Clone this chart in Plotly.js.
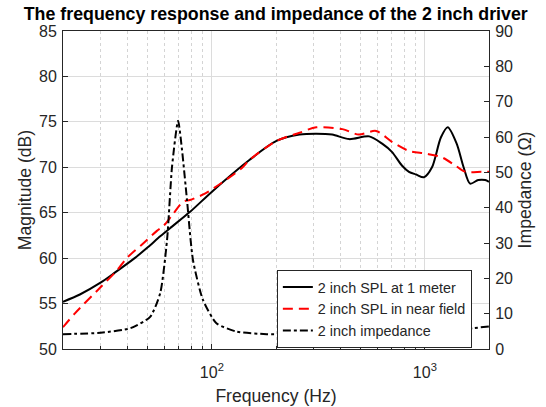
<!DOCTYPE html>
<html>
<head>
<meta charset="utf-8">
<script src="https://cdn.plot.ly/plotly-3.0.1.min.js"></script>
<style>html,body{margin:0;padding:0;background:#fff}#chart{width:546px;height:407px}</style>
</head>
<body>
<div id="chart"></div>
<script>
// Frequency (Hz) and values
const freqSpl1m = [20, 24, 30, 35, 43.4, 50, 57.2, 63.6, 79, 101, 150, 201, 258, 309, 367, 441, 548, 630, 700, 780, 842, 910, 990, 1080, 1190, 1280, 1410, 1520, 1630, 1780, 1920, 2000];
const spl1m     = [55.2, 56.0, 57.3, 58.4, 60.0, 61.2, 62.4, 63.3, 65.1, 67.4, 70.8, 72.9, 73.6, 73.7, 73.6, 73.1, 73.4, 72.6, 71.7, 70.2, 69.5, 69.2, 68.9, 70.0, 73.3, 74.4, 72.6, 70.0, 68.2, 68.6, 68.6, 68.4];

const freqNear = [20, 22.7, 30, 36, 39.8, 47, 55.2, 59, 65, 73.2, 78.9, 92.7, 111.3, 138, 150, 201, 258, 309, 410, 490, 590, 700, 842, 1010, 1200, 1390, 1550, 1840, 2000];
const splNear  = [52.4, 53.9, 56.8, 58.7, 60.0, 61.5, 63.0, 63.5, 64.7, 66.2, 66.4, 67.1, 68.3, 69.9, 70.8, 72.9, 73.8, 74.4, 74.2, 73.6, 74.0, 72.8, 71.8, 71.5, 71.1, 70.2, 69.5, 69.5, 69.5];

const freqImp = [20, 30, 41.5, 51.3, 57.2, 61.6, 65.0, 69.4, 72.4, 76.4, 81.5, 90.8, 105, 131, 181, 300, 600, 1000, 1400, 1690, 2000];
const impedance = [4.2, 4.6, 5.9, 9.1, 15.8, 30.9, 51.6, 64.6, 56.4, 42.2, 25.2, 13.9, 7.3, 4.9, 4.2, 4.1, 4.2, 4.6, 5.3, 5.9, 6.4];

const majorTicks = [100, 1000];
const majorTickText = ['10<sup>2</sup>', '10<sup>3</sup>'];
const minorTicks = [20, 30, 40, 50, 60, 70, 80, 90, 200, 300, 400, 500, 600, 700, 800, 900, 2000];
const leftTicks = [50, 55, 60, 65, 70, 75, 80, 85];
const rightTicks = [0, 10, 20, 30, 40, 50, 60, 70, 80, 90];

const ink = '#262626';
const font = 'Liberation Sans, Arial, sans-serif';

const traces = [
  {x: freqSpl1m, y: spl1m, name: '2 inch SPL at 1 meter', mode: 'lines',
   line: {color: '#000', width: 2, shape: 'spline', smoothing: 0.8}, yaxis: 'y'},
  {x: freqNear, y: splNear, name: '2 inch SPL in near field', mode: 'lines',
   line: {color: '#ff0000', width: 2, dash: '10px,6px', shape: 'spline', smoothing: 0.8}, yaxis: 'y'},
  {x: freqImp, y: impedance, name: '2 inch impedance', mode: 'lines',
   line: {color: '#000', width: 2, dash: '8px,3px,3px,3px', shape: 'spline', smoothing: 0.6}, yaxis: 'y2'}
];

const layout = {
  width: 546, height: 407,
  margin: {l: 63, r: 57, t: 31, b: 58},
  paper_bgcolor: '#fff', plot_bgcolor: '#fff',
  font: {family: font, size: 16, color: ink},
  title: {text: '<b>The frequency response and impedance of the 2 inch driver</b>',
          font: {family: font, size: 17.8, color: '#000'}, x: 0.505, xanchor: 'center', y: 0.966, yanchor: 'middle'},
  showlegend: true,
  legend: {x: 0.502, y: 0.248, xanchor: 'left', yanchor: 'top', bgcolor: '#fff',
           bordercolor: ink, borderwidth: 1, font: {family: font, size: 14.4, color: ink}},
  xaxis: {type: 'log', range: [Math.log10(20), Math.log10(2000)],
          tickmode: 'array', tickvals: majorTicks, ticktext: majorTickText,
          ticks: 'inside', ticklen: 5, tickcolor: ink, ticklabelstandoff: 9,
          showline: true, linecolor: ink, linewidth: 1, mirror: true,
          showgrid: true, gridcolor: '#dcdcdc', gridwidth: 1,
          minor: {tickmode: 'array', tickvals: minorTicks, ticks: 'inside', ticklen: 3, tickcolor: ink,
                  showgrid: true, gridcolor: '#d4d4d4', griddash: 'dot', gridwidth: 1},
          zeroline: false, tickfont: {size: 16, color: ink},
          title: {text: 'Frequency (Hz)', font: {size: 17.6, color: ink}, standoff: 9}},
  yaxis: {range: [50, 85], tickmode: 'array', tickvals: leftTicks,
          ticks: 'inside', ticklen: 5, tickcolor: ink, ticklabelstandoff: 2,
          showline: true, linecolor: ink, linewidth: 1,
          showgrid: true, gridcolor: '#dcdcdc', gridwidth: 1, zeroline: false,
          tickfont: {size: 16, color: ink},
          title: {text: 'Magnitude (dB)', font: {size: 17.6, color: ink}, standoff: 2}},
  yaxis2: {range: [0, 90], overlaying: 'y', side: 'right', tickmode: 'array', tickvals: rightTicks,
           ticks: 'inside', ticklen: 5, tickcolor: ink, ticklabelstandoff: 2,
           showline: true, linecolor: ink, linewidth: 1, showgrid: false, zeroline: false,
           tickfont: {size: 16, color: ink},
           title: {text: 'Impedance (Ω)', font: {size: 17.6, color: ink}, standoff: 6}}
};

Plotly.newPlot('chart', traces, layout, {displayModeBar: false, staticPlot: true});
</script>
</body>
</html>
